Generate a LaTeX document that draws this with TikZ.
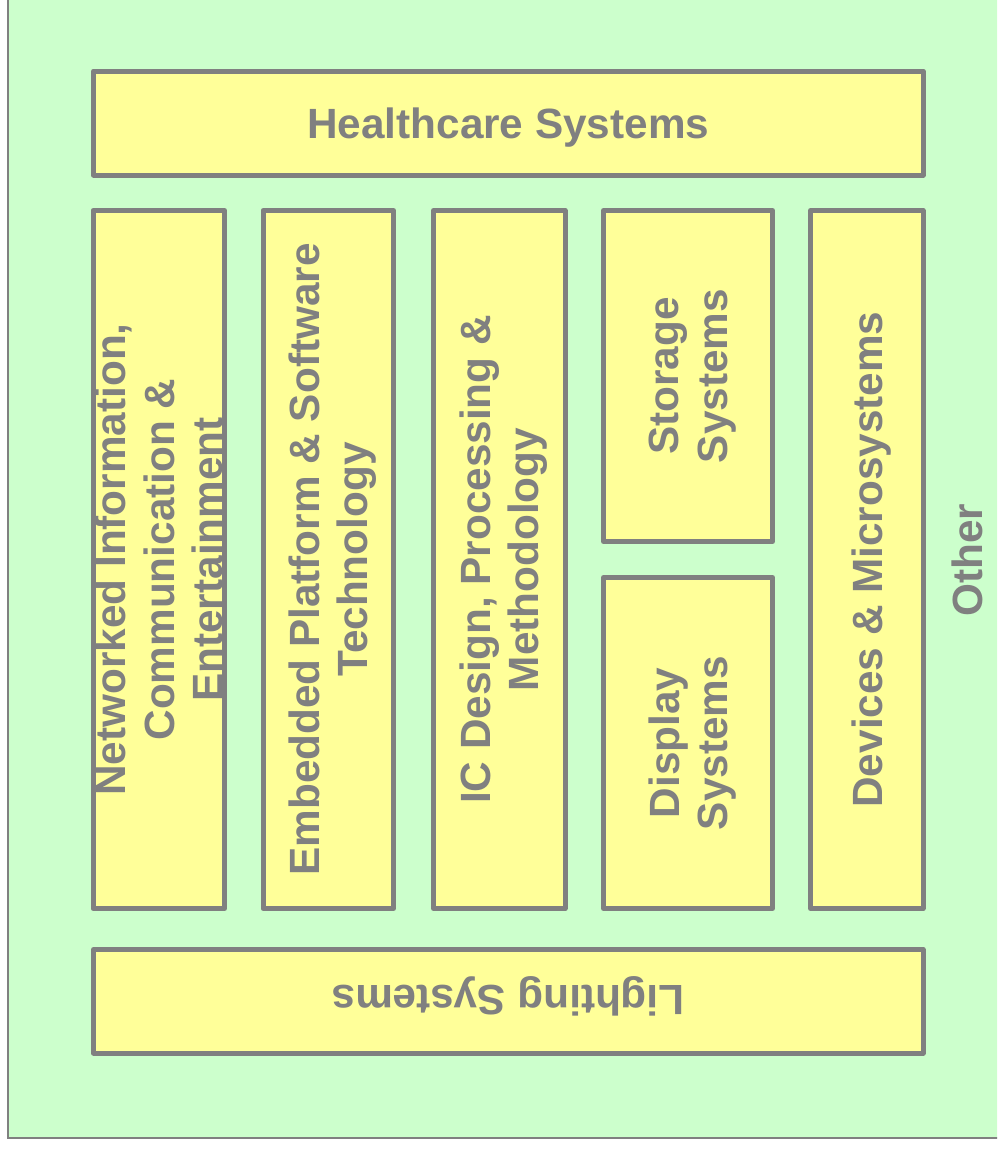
\documentclass[tikz,border=0pt]{standalone}
\usepackage{fontspec}
\setmainfont{Liberation Sans}
\definecolor{bggreen}{HTML}{CCFFCC}
\definecolor{boxyellow}{HTML}{FFFF99}
\definecolor{edgegray}{HTML}{808080}
\tikzset{
  box/.style={draw=edgegray, fill=boxyellow, line width=5pt, line join=round, inner sep=0pt, rectangle},
  txt/.style={text=edgegray, font=\fontsize{42.3}{48.6}\selectfont\bfseries, align=center, inner sep=0pt, text depth=0pt},
}
\begin{document}
\begin{tikzpicture}[x=1pt,y=-1pt]
\useasboundingbox (0,0) rectangle (997,1149);
\clip (0,0) rectangle (997,1149);
\fill[white] (0,0) rectangle (997,1149);
\draw[fill=bggreen, draw=edgegray, line width=2pt] (8.3,-20) rectangle (1020,1137.5);
\node[box, minimum width=829.5pt, minimum height=104pt] (hc) at (508.25,123) {};
\node[txt] (hct) at (hc) {Healthcare Systems};
\node[box, minimum width=131.5pt, minimum height=698pt] (b1) at (158.75,559.5) {};
\node[txt, rotate=90] (b1t) at (b1) {Networked Information,\\Communication \&\\Entertainment};
\node[box, minimum width=130.5pt, minimum height=698pt] (b2) at (328.25,559.5) {};
\node[txt, rotate=90] (b2t) at (b2) {Embedded Platform \& Software\\Technology};
\node[box, minimum width=131.5pt, minimum height=698pt] (b3) at (499.25,559.5) {};
\node[txt, rotate=90] (b3t) at (b3) {IC Design, Processing \&\\Methodology};
\node[box, minimum width=169pt, minimum height=331pt] (st) at (688,376) {};
\node[txt, rotate=90] (stt) at (st) {Storage\\Systems};
\node[box, minimum width=169pt, minimum height=331pt] (dp) at (688,743) {};
\node[txt, rotate=90] (dpt) at (dp) {Display\\Systems};
\node[box, minimum width=112.5pt, minimum height=698pt] (b5) at (866.75,559.5) {};
\node[txt, rotate=90] (b5t) at (b5) {Devices \& Microsystems};
\node[box, minimum width=829.5pt, minimum height=103.5pt] (lt) at (508.25,1001.25) {};
\node[txt, rotate=180] (ltt) at (lt) {Lighting Systems};
\node[txt, rotate=90] (oth) at (967,560) {Other};
\end{tikzpicture}
\end{document}
